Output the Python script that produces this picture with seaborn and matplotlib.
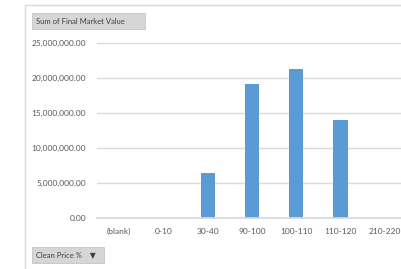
import matplotlib

matplotlib.use("Agg")
import matplotlib.pyplot as plt
import pandas as pd
import seaborn as sns
from matplotlib.lines import Line2D
from matplotlib.ticker import FuncFormatter

categories = ["(blank)", "0-10", "30-40", "90-100", "100-110", "110-120", "210-220"]
market_values = [0, 0, 6_400_000, 19_100_000, 21_300_000, 13_950_000, 0]
y_ticks = [0, 5_000_000, 10_000_000, 15_000_000, 20_000_000, 25_000_000]

TEXT = "#595959"
GRID = "#D9D9D9"
BAR = "#5B9BD5"

frame = pd.DataFrame({"price_band": categories, "value": market_values})

sns.set_theme(style="white")
plt.rcParams["font.family"] = ["Lato", "DejaVu Sans"]

fig = plt.figure(figsize=(4.02, 2.69), dpi=100)
ax = fig.add_axes([97 / 402, 51 / 269, 310 / 402, 175 / 269])
sns.barplot(
    data=frame,
    x="price_band",
    y="value",
    order=categories,
    color=BAR,
    saturation=1,
    width=0.32,
    linewidth=0,
    ax=ax,
)
ax.set_xlim(-0.5, len(categories) - 0.5)
ax.set_ylim(0, 25_000_000)
ax.set_yticks(y_ticks)
ax.yaxis.set_major_formatter(FuncFormatter(lambda v, _: f"{v:,.2f}"))
ax.grid(axis="y", color=GRID, linewidth=1)
ax.set_axisbelow(True)
for side in ["top", "right", "left"]:
    ax.spines[side].set_visible(False)
ax.spines["bottom"].set_color(GRID)
ax.tick_params(axis="both", length=0, labelsize=6, labelcolor=TEXT)
ax.tick_params(axis="y", pad=8)
ax.tick_params(axis="x", pad=7)
ax.set_xlabel("")
ax.set_ylabel("")

# outer chart border (left and top edges visible)
fig.add_artist(Line2D([25 / 402, 25 / 402], [0, 1 - 5 / 269], color=GRID, linewidth=1))
fig.add_artist(Line2D([25 / 402, 1], [1 - 5 / 269, 1 - 5 / 269], color=GRID, linewidth=1))

# pivot field buttons
button = dict(boxstyle="square,pad=0.55", facecolor="#D6D6D6", edgecolor="#C4C4C4", linewidth=0.6)
fig.text(36 / 402, 1 - 21 / 269, "Sum of Final Market Value        ", fontsize=5.5,
         color="#404040", va="center", ha="left", bbox=button)
fig.text(36 / 402, 1 - 255 / 269, "Clean Price %    \u25bc  ", fontsize=5.5,
         color="#404040", va="center", ha="left", bbox=button)

fig.savefig("out.png", dpi=100)
plt.close(fig)
